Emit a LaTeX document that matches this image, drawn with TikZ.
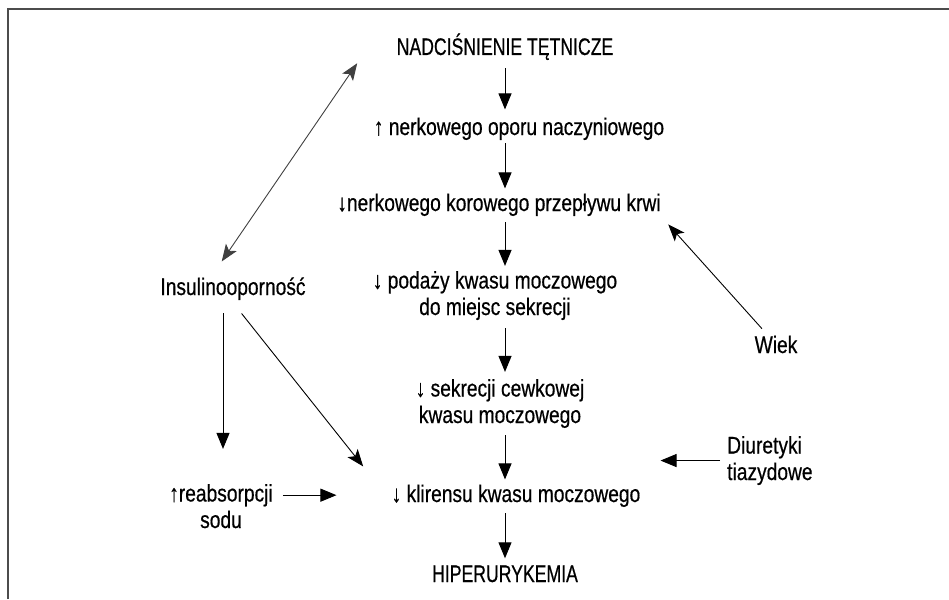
\documentclass[tikz,border=0pt]{standalone}
\usepackage{fontspec}
\setmainfont{Liberation Sans}[FakeStretch=0.80, FakeBold=0.5]
\newfontfamily\capsfont{Liberation Sans}[FakeStretch=0.735, FakeBold=0.5]
\usetikzlibrary{arrows.meta,calc,positioning}

\begin{document}
\begin{tikzpicture}[
    x=1pt, y=-1pt,
    every node/.style={inner sep=0pt, text=black, font=\fontsize{24}{26.5}\selectfont},
    txt/.style={anchor=base, align=center},
    caps/.style={font=\capsfont\fontsize{24}{26.5}\selectfont},
    arrow/.style={-{Triangle[length=16pt,width=13pt]}, line width=1pt, shorten <=7pt, shorten >=7pt},
    slant/.style={-{Stealth[length=17pt,width=13pt,inset=4pt]}, line width=0.9pt},
    twoway/.style={{Stealth[length=17pt,width=13pt,inset=4pt]}-{Stealth[length=17pt,width=13pt,inset=4pt]}, line width=0.9pt, draw=black!75},
    rim/.style={draw=black!70, line width=1.2pt}
]
    \useasboundingbox (0,0) rectangle (949,599);
    \draw[rim] (8,599) -- (8,9) -- (949,9);

    \coordinate (axis) at (505,0);

    % main chain
    \node[txt, caps] (nad) at (505,55) {NADCIŚNIENIE TĘTNICZE};
    \node[txt] (opor) at (519,135) {↑ nerkowego oporu naczyniowego};
    \node[txt] (kor) at (499,211) {↓nerkowego korowego przepływu krwi};
    \node[txt] (pod) at (495,315) {↓ podaży kwasu moczowego\\do miejsc sekrecji};
    \node[txt] (sek) at (500,423) {↓ sekrecji cewkowej\\kwasu moczowego};
    \node[txt] (klir) at (516,502) {↓ klirensu kwasu moczowego};
    \node[txt, caps] (hip) at (505,582) {HIPERURYKEMIA};

    % side factors
    \node[txt] (ins) at (233,295) {Insulinooporność};
    \node[txt] (reab) at (221,528) {↑reabsorpcji\\sodu};
    \node[txt] (wiek) at (776,353) {Wiek};
    \node[txt, anchor=base west, align=left] (diu) at (727,480) {Diuretyki\\tiazydowe};

    \draw[arrow, shorten <=8pt, shorten >=8pt] (nad.south -| axis) -- (opor.north -| axis);
    \draw[arrow, shorten <=3pt, shorten >=5pt] (opor.south -| axis) -- (kor.north -| axis);
    \draw[arrow, shorten <=6pt, shorten >=5pt] (kor.south -| axis) -- (pod.north -| axis);
    \draw[arrow, shorten <=8pt] (pod.south -| axis) -- (sek.north -| axis);
    \draw[arrow, shorten >=5pt] (sek.south -| axis) -- (klir.north -| axis);
    \draw[arrow, shorten <=6pt] (klir.south -| axis) -- (hip.north -| axis);

    \draw[twoway, shorten <=19pt, shorten >=20pt] ([xshift=-22pt]ins.north) -- ([xshift=-28pt]nad.west);
    \draw[arrow, shorten <=13pt, shorten >=35pt] ([xshift=-10pt]ins.south) -- ([xshift=-10pt]ins.south |- reab.north);
    \draw[slant, shorten <=17pt, shorten >=23pt] ([xshift=-2pt]ins.south) -- ([xshift=-14pt]klir.north west);
    \draw[arrow, shorten <=10pt, shorten >=55pt] ([yshift=11pt]reab.east) -- ([yshift=11pt]reab.east -| klir.west);
    \draw[slant, shorten <=9pt, shorten >=11pt] ([xshift=-8pt]wiek.north) -- (kor.south east);
    \draw[arrow, shorten <=7pt, shorten >=20pt] (diu.west) -- (diu.west -| klir.east);
\end{tikzpicture}
\end{document}
